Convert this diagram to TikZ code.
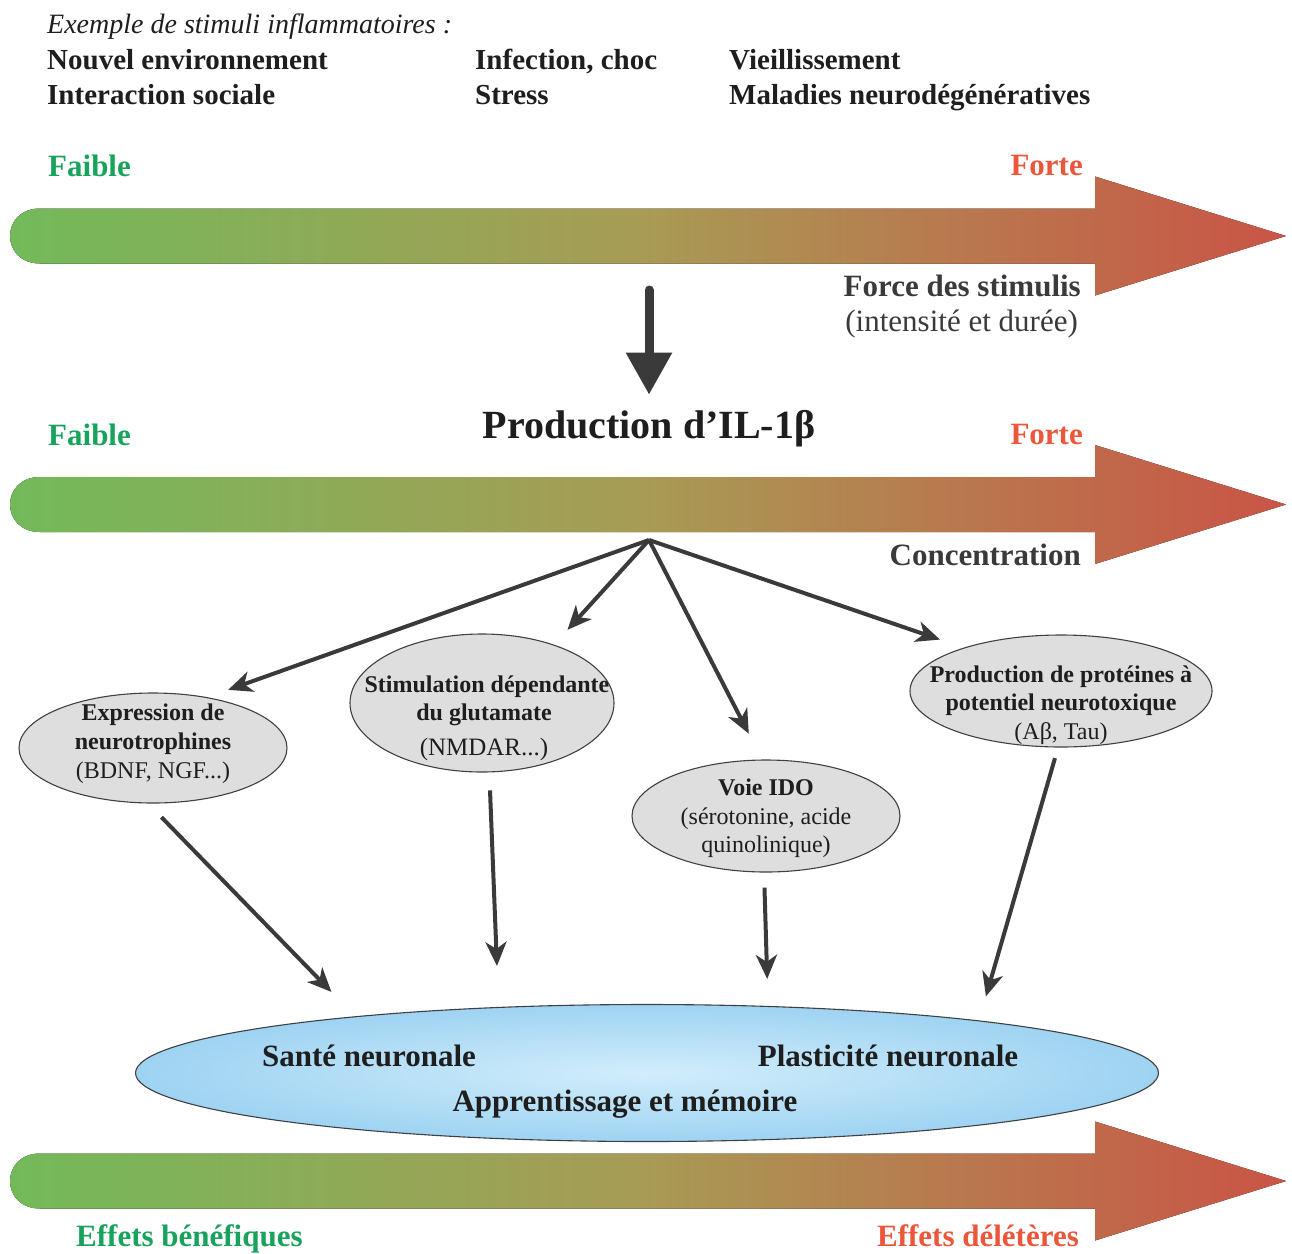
\documentclass[tikz,border=0pt]{standalone}
\usepackage{fontspec}
\setmainfont{Liberation Serif}
\usetikzlibrary{shapes.geometric,arrows.meta}
\definecolor{txtblack}{RGB}{30,30,30}
\definecolor{txtgray}{RGB}{58,58,58}
\definecolor{gtxt}{RGB}{24,163,92}
\definecolor{rtxt}{RGB}{236,86,58}
\definecolor{agreen}{RGB}{114,186,90}
\definecolor{amid}{RGB}{168,155,85}
\definecolor{ared}{RGB}{202,84,70}
\definecolor{ellgray}{RGB}{222,222,222}
\definecolor{bluein}{RGB}{210,237,251}
\definecolor{blueout}{RGB}{158,211,242}
\definecolor{arrgray}{RGB}{58,58,58}
\newcommand\gradarrow[1]{%
  \fill[left color=agreen, right color=ared, middle color=amid, shift={(0,#1)}]
    (40,-27.5) -- (1095,-27.5) -- (1095,-59.5) -- (1286,0) -- (1095,59.5)
    -- (1095,27.5) -- (40,27.5) .. controls (0,27.5) and (0,-27.5) .. (40,-27.5) -- cycle;}
\begin{document}
\begin{tikzpicture}[x=1pt,y=-1pt,
  lst/.style={font=\fontsize{29}{34}\selectfont\bfseries, text=txtblack, inner sep=0pt, anchor=base west},
  itl/.style={font=\fontsize{28}{33}\selectfont\itshape, text=txtblack, inner sep=0pt, anchor=base west},
  lvl/.style={font=\fontsize{31}{36}\selectfont\bfseries, inner sep=0pt},
  sub/.style={font=\fontsize{31}{36}\selectfont, text=txtgray, inner sep=0pt},
  ell/.style={ellipse, draw=black!75, line width=1.1pt, fill=ellgray, inner sep=0pt},
  eb/.style={font=\fontsize{24}{28}\selectfont\bfseries, text=txtblack, inner sep=0pt, anchor=base},
  er/.style={font=\fontsize{24}{28}\selectfont, text=txtblack, inner sep=0pt, anchor=base},
  bt/.style={font=\fontsize{31}{36}\selectfont\bfseries, text=txtblack, inner sep=0pt, anchor=base},
  thinarr/.style={line width=4pt, draw=arrgray, -{Stealth[length=24pt,width=21pt,inset=7pt]}}
]
\useasboundingbox (0,0) rectangle (1292,1253);

% gradient arrows
\gradarrow{236}
\gradarrow{504.5}
\gradarrow{1181}

% stimuli list
\node[itl] (ex) at (47,33) {Exemple de stimuli inflammatoires :};
\node[lst] (s1) at (47,69) {Nouvel environnement};
\node[lst] (s2) at (47,104) {Interaction sociale};
\node[lst] (s3) at (475,69) {Infection, choc};
\node[lst] (s4) at (475,104) {Stress};
\node[lst] (s5) at (729,69) {Vieillissement};
\node[lst] (s6) at (729,104) {Maladies neurodégénératives};

% first scale
\node[lvl, text=gtxt, anchor=base west] (fa1) at (48,176) {Faible};
\node[lvl, text=rtxt, anchor=base east] (fo1) at (1083,175) {Forte};
\node[lvl, text=txtgray, anchor=base east] (force) at (1081,296) {Force des stimulis};
\node[sub, anchor=base east] (inten) at (1078,331) {(intensité et durée)};

% IL-1b
\node[font=\fontsize{40}{46}\selectfont\bfseries, text=txtblack, inner sep=0pt, anchor=base] (il) at (649,438) {Production d’IL-1β};
\coordinate (s0) at (649,290);
\draw[line width=9pt, arrgray, line cap=round, shorten >=15pt, -{Triangle[width=44pt,length=42pt]}] (s0) -- (il.north);

% second scale
\node[lvl, text=gtxt, anchor=base west] (fa2) at (48,445) {Faible};
\node[lvl, text=rtxt, anchor=base east] (fo2) at (1083,444) {Forte};
\node[lvl, text=txtgray, anchor=base east] (conc) at (1081,565) {Concentration};

% ellipses
\node[ell, minimum width=268pt, minimum height=110pt] (e1) at (153,748) {};
\node[ell, minimum width=264pt, minimum height=138pt] (e2) at (482,703) {};
\node[ell, minimum width=268pt, minimum height=112pt] (e3) at (766,816) {};
\node[ell, minimum width=302pt, minimum height=112pt] (e4) at (1061,691) {};

\node[eb] (e1a) at (153,720) {Expression de};
\node[eb] (e1b) at (153,749) {neurotrophines};
\node[er] (e1c) at (153,778) {(BDNF, NGF...)};

\node[eb] (e2a) at (487,692) {Stimulation dépendante};
\node[eb] (e2b) at (484,720) {du glutamate};
\node[er, font=\fontsize{25}{29}\selectfont] (e2c) at (484,755) {(NMDAR...)};

\node[eb] (e3a) at (766,795) {Voie IDO};
\node[er] (e3b) at (766,824) {(sérotonine, acide};
\node[er] (e3c) at (766,852) {quinolinique)};

\node[eb] (e4a) at (1061,682) {Production de protéines à};
\node[eb] (e4b) at (1061,710) {potentiel neurotoxique};
\node[er] (e4c) at (1061,739) {(Aβ, Tau)};

% big ellipse
\node[ellipse, draw=black!75, line width=1.1pt, inner color=bluein, outer color=blueout,
      minimum width=1023pt, minimum height=137pt, inner sep=0pt] (big) at (647,1073) {};
\node[bt] (b1) at (369,1066) {Santé neuronale};
\node[bt] (b2) at (888,1066) {Plasticité neuronale};
\node[bt] (b3) at (625,1111) {Apprentissage et mémoire};

% fan arrows
\coordinate (fan) at (649,540);
\draw[thinarr, shorten >=22pt] (fan) -- (e1.43);
\draw[thinarr, shorten >=20pt] (fan) -- (e2.39);
\draw[thinarr, shorten >=29pt] (fan) -- (e3.94);
\draw[thinarr, shorten >=25pt] (fan) -- (e4.156);

% lower arrows
\draw[thinarr, shorten <=19pt, shorten >=34pt] (e1.265) -- (big.169);
\draw[thinarr, shorten <=18pt, shorten >=41pt] (e2.276) -- (big.156);
\draw[thinarr, shorten <=15pt, shorten >=27pt] (e3.268) -- (big.29);
\draw[thinarr, shorten <=11pt, shorten >=25pt] (e4.267) -- (big.9);

% bottom labels
\node[lvl, text=gtxt, anchor=base west] (eb1) at (76,1246) {Effets bénéfiques};
\node[lvl, text=rtxt, anchor=base east] (ed1) at (1079,1246) {Effets délétères};
\end{tikzpicture}
\end{document}
